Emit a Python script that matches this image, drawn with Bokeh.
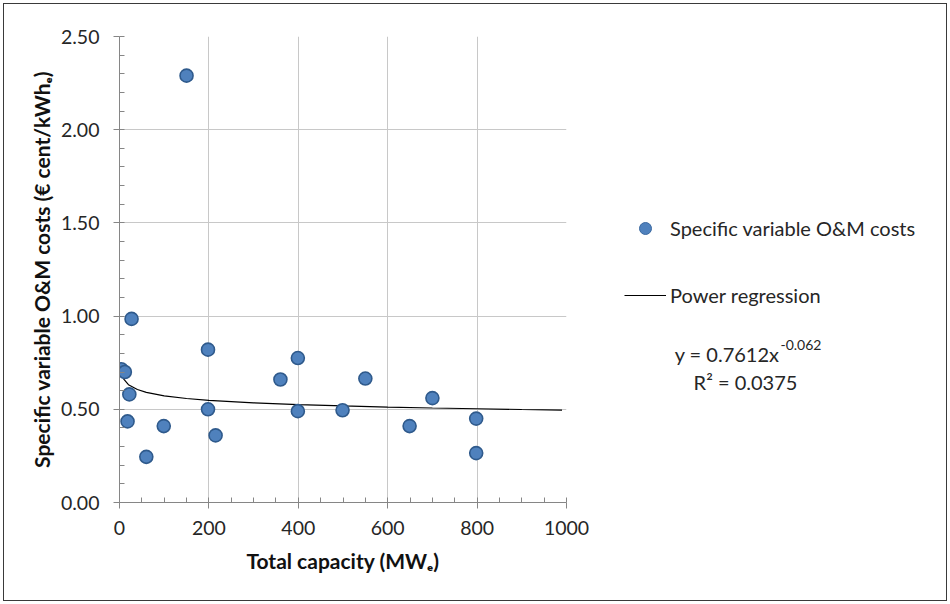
from bokeh.plotting import figure
from bokeh.layouts import row
from bokeh.models import (FixedTicker, NumeralTickFormatter, Range1d, Legend, LegendItem, Label)
from bokeh.embed import file_html
from bokeh.resources import INLINE

# ---- data ----
capacity = [4, 12, 18, 22, 27, 60, 99, 150, 198, 198, 215, 360, 399, 399, 499, 550, 649, 700, 798, 798]
om_cost = [0.715, 0.70, 0.435, 0.58, 0.985, 0.245, 0.41, 2.29, 0.82, 0.50, 0.36, 0.66, 0.775, 0.49, 0.495, 0.665, 0.41, 0.56, 0.45, 0.265]

trend_x = [4, 10, 20, 40, 60, 100, 150, 200, 300, 400, 500, 600, 700, 800, 900, 990]
trend_y = [0.698, 0.660, 0.632, 0.606, 0.591, 0.572, 0.558, 0.548, 0.535, 0.525, 0.518, 0.512, 0.507, 0.503, 0.499, 0.496]

x_ticks = [0, 200, 400, 600, 800, 1000]
x_minor = [v for v in range(0, 1001, 50)]
y_ticks = [0.0, 0.5, 1.0, 1.5, 2.0, 2.5]
y_minor = [round(v * 0.1, 1) for v in range(0, 26)]

series_label = "Specific variable O&M costs"
trend_label = "Power regression"
eq_main = "y = 0.7612x"
eq_sup = "-0.062"
eq_r2 = "R² = 0.0375"

FONT = "Lato"
TXT = "#262626"
FS = "19.5px"
LFS = "20px"
TFS = "21px"

# ---------------- main chart ----------------
p = figure(width=600, height=604, output_backend="svg", toolbar_location=None,
           x_range=Range1d(0, 1000), y_range=Range1d(0, 2.5),
           min_border_left=119, min_border_right=34, min_border_top=36, min_border_bottom=102)
p.outline_line_color = None
p.background_fill_color = "white"
p.border_fill_color = None

p.xgrid.ticker = FixedTicker(ticks=x_ticks)
p.ygrid.ticker = FixedTicker(ticks=y_ticks)
for g in (p.xgrid, p.ygrid):
    g.grid_line_color = "#c8c8c8"
    g.grid_line_width = 1

p.xaxis.ticker = FixedTicker(ticks=x_ticks, minor_ticks=x_minor)
p.yaxis.ticker = FixedTicker(ticks=y_ticks, minor_ticks=y_minor)
p.yaxis.formatter = NumeralTickFormatter(format="0.00")
for ax in (p.xaxis[0], p.yaxis[0]):
    ax.axis_line_color = "#868686"
    ax.major_tick_line_color = "#868686"
    ax.minor_tick_line_color = "#868686"
    ax.major_tick_out = 6
    ax.major_tick_in = 0
    ax.minor_tick_in = 5
    ax.minor_tick_out = 0
    ax.major_label_text_font = FONT
    ax.major_label_text_font_size = FS
    ax.major_label_text_color = TXT
    ax.axis_label_text_font = FONT
    ax.axis_label_text_font_size = TFS
    ax.axis_label_text_font_style = "bold"
    ax.axis_label_text_color = "#111111"
p.xaxis.major_label_standoff = 12
p.yaxis.major_label_standoff = 14
p.xaxis.axis_label = "Total capacity (MWₑ)"
p.yaxis.axis_label = "Specific variable O&M costs (€ cent/kWhₑ)"
p.xaxis.axis_label_standoff = 10
p.yaxis.axis_label_standoff = 4

trend = p.line(trend_x, trend_y, line_color="black", line_width=1.2)
pts = p.scatter(capacity, om_cost, size=13, fill_color="#4F81BD", line_color="#2F5A8C", line_width=1.6)

# ---------------- legend / equation panel (data units = page pixels) ----------------
p2 = figure(width=350, height=604, output_backend="svg", toolbar_location=None,
            x_range=Range1d(600, 950), y_range=Range1d(502, 36),
            min_border_left=0, min_border_right=0, min_border_top=36, min_border_bottom=102,
            x_axis_type=None, y_axis_type=None)
p2.outline_line_color = None
p2.background_fill_color = None
p2.border_fill_color = None
p2.xgrid.visible = False
p2.ygrid.visible = False

nan = float("nan")
leg_pts = p2.scatter([nan], [nan], size=13, fill_color="#4F81BD", line_color="#3A68A0", line_width=1.0)
leg_line = p2.line([nan, nan], [nan, nan], line_color="black", line_width=1.2)

legend = Legend(items=[LegendItem(label=series_label, renderers=[leg_pts]),
                       LegendItem(label=trend_label, renderers=[leg_line])],
                location=(24, 192), orientation="vertical",
                glyph_width=42, glyph_height=30, label_height=30, label_standoff=4,
                spacing=37, padding=0, margin=0,
                border_line_color=None, background_fill_alpha=0,
                label_text_font=FONT, label_text_font_size=LFS, label_text_color=TXT)
p2.add_layout(legend, "center")

p2.add_layout(Label(x=779, y=353, text=eq_main, text_align="right", text_baseline="alphabetic",
                    text_font=FONT, text_font_size=LFS, text_color=TXT))
p2.add_layout(Label(x=780, y=344, text=eq_sup, text_align="left", text_baseline="alphabetic",
                    text_font=FONT, text_font_size="14px", text_color=TXT))
p2.add_layout(Label(x=745, y=381, text=eq_r2, text_align="center", text_baseline="alphabetic",
                    text_font=FONT, text_font_size=LFS, text_color=TXT))

layout = row(p, p2, spacing=0,
             styles={"box-shadow": "inset 0 0 0 3px white, inset 0 0 0 4px #3a3a3a",
                     "background-color": "white"})

open("out.html", "w").write(file_html(layout, INLINE))
